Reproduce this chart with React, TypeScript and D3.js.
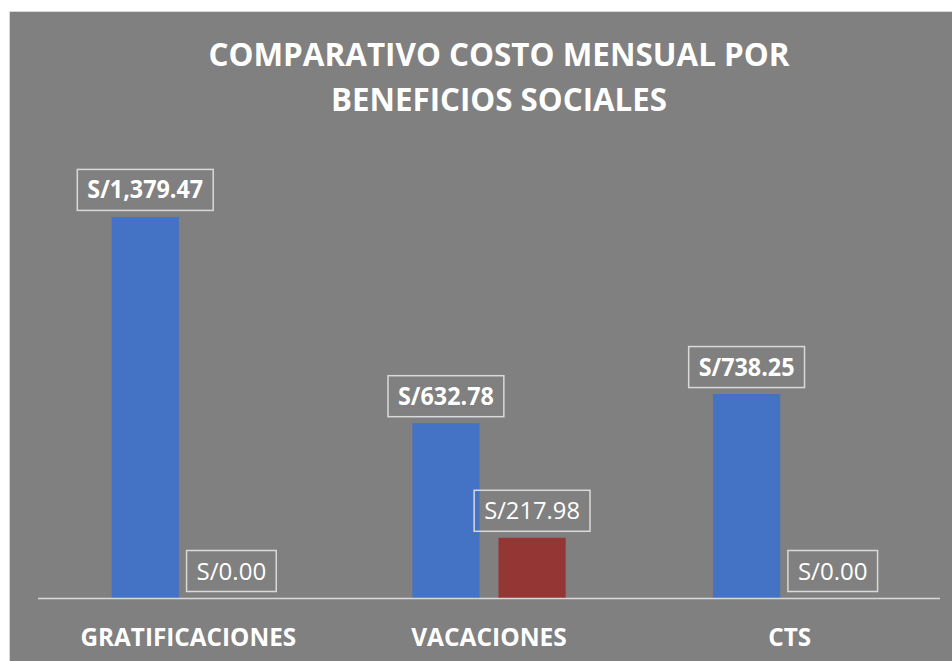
import React from "react";
import * as d3 from "d3";

const categories = ["GRATIFICACIONES", "VACACIONES", "CTS"];
const seriesKeys = ["s1", "s2"];
const series1 = [1379.47, 632.78, 738.25];
const series2 = [0, 217.98, 0];
const seriesColors = ["#4472C4", "#943634"];
const titleLines = ["COMPARATIVO COSTO MENSUAL POR", "BENEFICIOS SOCIALES"];

const W = 952;
const H = 661;
const FONT = "'Open Sans', 'DejaVu Sans', sans-serif";

const fmt = (v: number) => "S/" + d3.format(",.2f")(v);

const approxWidth = (s: string) => {
  // approximate Calibri-like widths (em units)
  let w = 0;
  for (const ch of s) {
    if (ch === "/") w += 0.42;
    else if (ch === "," || ch === ".") w += 0.27;
    else if (ch === "S") w += 0.49;
    else w += 0.507;
  }
  return w;
};

const capWidths: Record<string, number> = {
  G: 0.63, R: 0.56, A: 0.61, T: 0.5, I: 0.27, F: 0.46, C: 0.53,
  O: 0.68, N: 0.66, E: 0.49, S: 0.47, V: 0.59,
};
const capWidth = (s: string) =>
  Array.from(s).reduce((acc, ch) => acc + (capWidths[ch] ?? 0.55), 0);

export default function App() {
  const plotLeft = 38;
  const plotRight = 940;
  const baseY = 598;

  const x0 = d3
    .scaleBand<string>()
    .domain(categories)
    .range([plotLeft, plotRight])
    .paddingInner(0.49)
    .paddingOuter(0.245);
  const x1 = d3
    .scaleBand<string>()
    .domain(seriesKeys)
    .range([0, x0.bandwidth()])
    .paddingInner(0.22);
  const y = d3.scaleLinear().domain([0, 1600]).range([baseY, 156]);

  const data = categories.map((c, i) => ({
    cat: c,
    vals: [series1[i], series2[i]],
  }));

  return (
    <svg
      width={W}
      height={H}
      style={{ position: "absolute", left: 0, top: 0, display: "block" }}
    >
      <rect x={0} y={0} width={W} height={H} fill="#ffffff" />
      <rect
        x={9.5}
        y={11.5}
        width={W}
        height={H}
        fill="#808080"
        stroke="#d9d9d9"
        strokeWidth={1}
      />
      {/* title */}
      <text
        x={499}
        y={66}
        textAnchor="middle"
        fill="#ffffff"
        fontFamily={FONT}
        fontWeight={700}
        fontSize={32}
        textLength={581}
        lengthAdjust="spacingAndGlyphs"
      >
        {titleLines[0]}
      </text>
      <text
        x={499}
        y={111}
        textAnchor="middle"
        fill="#ffffff"
        fontFamily={FONT}
        fontWeight={700}
        fontSize={32}
        textLength={336}
        lengthAdjust="spacingAndGlyphs"
      >
        {titleLines[1]}
      </text>

      {/* bars */}
      {data.map((d) =>
        d.vals.map((v, j) => {
          const bx = (x0(d.cat) as number) + (x1(seriesKeys[j]) as number);
          const by = y(v);
          return (
            <rect
              key={d.cat + j}
              x={bx}
              y={by}
              width={x1.bandwidth()}
              height={baseY - by}
              fill={seriesColors[j]}
            />
          );
        })
      )}

      {/* axis line */}
      <line
        x1={plotLeft}
        x2={plotRight}
        y1={baseY + 0.5}
        y2={baseY + 0.5}
        stroke="#d9d9d9"
        strokeWidth={1.5}
      />

      {/* data labels */}
      {data.map((d) =>
        d.vals.map((v, j) => {
          const cx =
            (x0(d.cat) as number) + (x1(seriesKeys[j]) as number) + x1.bandwidth() / 2;
          const bold = j === 0;
          const label = fmt(v);
          const fs = 24.5;
          const tw = approxWidth(label) * 25.8;
          const boxW = tw + 20;
          const boxH = 41;
          const boxBottom = y(v) - 6.5;
          return (
            <g key={"l" + d.cat + j}>
              <rect
                x={cx - boxW / 2}
                y={boxBottom - boxH}
                width={boxW}
                height={boxH}
                fill="none"
                stroke="#d9d9d9"
                strokeWidth={1.5}
              />
              <text
                x={cx}
                y={boxBottom - 12}
                textAnchor="middle"
                fill="#ffffff"
                fontFamily={FONT}
                fontWeight={bold ? 700 : 400}
                fontSize={fs}
                textLength={tw}
                lengthAdjust="spacingAndGlyphs"
              >
                {label}
              </text>
            </g>
          );
        })
      )}

      {/* category labels */}
      {categories.map((c) => {
        const cx = (x0(c) as number) + x0.bandwidth() / 2;
        const tw = capWidth(c) * 28.6;
        return (
          <text
            key={c}
            x={cx}
            y={646}
            textAnchor="middle"
            fill="#ffffff"
            fontFamily={FONT}
            fontWeight={700}
            fontSize={25}
            textLength={tw}
            lengthAdjust="spacingAndGlyphs"
          >
            {c}
          </text>
        );
      })}
    </svg>
  );
}
